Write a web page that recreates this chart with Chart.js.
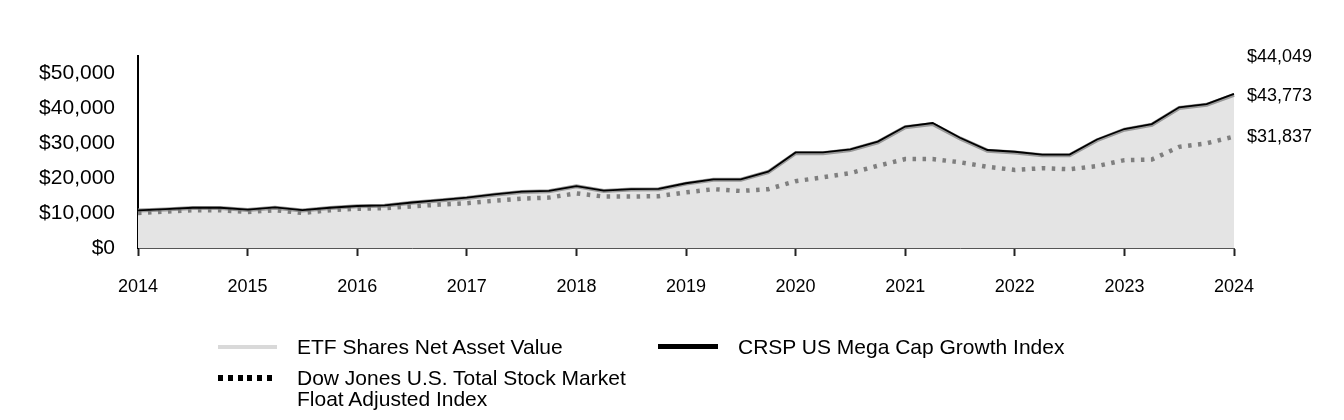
<!DOCTYPE html>
<html>
<head>
<meta charset="utf-8">
<script src="https://cdn.jsdelivr.net/npm/chart.js@4/dist/chart.umd.min.js"></script>
<style>
  html, body { margin: 0; padding: 0; background: #fff; }
  #wrap { position: relative; width: 1344px; height: 420px; font-family: "Liberation Sans", Arial, sans-serif; }
  canvas { position: absolute; left: 0; top: 0; }
  .lg { position: absolute; font-size: 21px; line-height: 21px; color: #000; white-space: nowrap; }
  .sw { position: absolute; }
</style>
</head>
<body>
<div id="wrap">
  <canvas id="c" width="1344" height="420"></canvas>
  <div class="sw" style="left:218px;top:345px;width:59px;height:4px;background:#d9d9d9;"></div>
  <div class="lg" style="left:297px;top:336px;">ETF Shares Net Asset Value</div>
  <div class="sw" style="left:658px;top:344px;width:60px;height:5px;background:#000;"></div>
  <div class="lg" style="left:738px;top:336px;">CRSP US Mega Cap Growth Index</div>
  <div class="sw" style="left:218px;top:375px;width:55px;height:6px;background:repeating-linear-gradient(90deg,#000 0 5px,transparent 5px 9.8px);"></div>
  <div class="lg" style="left:297px;top:367px;">Dow Jones U.S. Total Stock Market<br>Float Adjusted Index</div>
</div>
<script>
const periods = [
  'Jan 2014','Apr 2014','Jul 2014','Oct 2014',
  'Jan 2015','Apr 2015','Jul 2015','Oct 2015',
  'Jan 2016','Apr 2016','Jul 2016','Oct 2016',
  'Jan 2017','Apr 2017','Jul 2017','Oct 2017',
  'Jan 2018','Apr 2018','Jul 2018','Oct 2018',
  'Jan 2019','Apr 2019','Jul 2019','Oct 2019',
  'Jan 2020','Apr 2020','Jul 2020','Oct 2020',
  'Jan 2021','Apr 2021','Jul 2021','Oct 2021',
  'Jan 2022','Apr 2022','Jul 2022','Oct 2022',
  'Jan 2023','Apr 2023','Jul 2023','Oct 2023',
  'Jan 2024'
];

const etfNav = [
  10700, 11000, 11400, 11400, 10850, 11500, 10700, 11400,
  11900, 12100, 12900, 13600, 14300, 15200, 16000, 16200,
  17600, 16300, 16700, 16800, 18400, 19500, 19500, 21700,
  27100, 27100, 28000, 30200, 34500, 35400, 31300, 27800,
  27300, 26500, 26500, 30800, 33800, 35200, 40000, 40900,
  43773
];

const crspIndex = [
  10770, 11100, 11500, 11500, 10950, 11600, 10800, 11500,
  12000, 12200, 13000, 13700, 14400, 15300, 16100, 16300,
  17700, 16400, 16800, 16900, 18500, 19600, 19600, 21800,
  27300, 27300, 28200, 30400, 34700, 35700, 31500, 28000,
  27500, 26700, 26700, 31000, 34000, 35400, 40200, 41100,
  44049
];

const dowJones = [
  10000, 10400, 10800, 10800, 10300, 10800, 10000, 10800,
  11200, 11400, 11900, 12400, 12800, 13500, 14100, 14400,
  15600, 14700, 14700, 14800, 15900, 16800, 16300, 16800,
  19100, 20200, 21400, 23500, 25400, 25400, 24500, 23200,
  22300, 22800, 22500, 23400, 25100, 25300, 28900, 29900,
  31837
];

const yTicks = [0, 10000, 20000, 30000, 40000, 50000];

const money = v => '$' + Math.round(v).toLocaleString('en-US');

const endLabels = {
  id: 'endLabels',
  afterDraw(chart) {
    const ctx = chart.ctx;
    const y = chart.scales.y;
    const x0 = chart.chartArea.right + 13;
    const shifts = { crsp: -37, nav: 1, dj: 0 };
    ctx.save();
    ctx.font = '18px "Liberation Sans", Arial, sans-serif';
    ctx.fillStyle = '#000';
    ctx.textAlign = 'left';
    ctx.textBaseline = 'middle';
    chart.data.datasets.forEach(ds => {
      const last = ds.data[ds.data.length - 1];
      ctx.fillText(money(last), x0, y.getPixelForValue(last) + shifts[ds.key]);
    });
    ctx.restore();
  }
};

new Chart(document.getElementById('c'), {
  type: 'line',
  data: {
    labels: periods,
    datasets: [
      { key: 'crsp', label: 'CRSP US Mega Cap Growth Index', data: crspIndex,
        borderColor: '#000', borderWidth: 1.8, pointRadius: 0, fill: false, order: 0 },
      { key: 'dj', label: 'Dow Jones U.S. Total Stock Market Float Adjusted Index', data: dowJones,
        borderColor: '#7f7f7f', borderWidth: 4.5, borderDash: [3.5, 6.5], borderCapStyle: 'butt',
        pointRadius: 0, fill: false, order: 1 },
      { key: 'nav', label: 'ETF Shares Net Asset Value', data: etfNav,
        borderColor: '#999999', borderWidth: 4, backgroundColor: '#e4e4e4',
        pointRadius: 0, fill: 'origin', order: 2 }
    ]
  },
  options: {
    responsive: false,
    animation: false,
    layout: { padding: { left: 0, right: 110, top: 55.5, bottom: 0 } },
    plugins: { legend: { display: false }, tooltip: { enabled: false } },
    elements: { line: { tension: 0 } },
    scales: {
      x: {
        type: 'category',
        offset: false,
        grid: {
          display: true, drawOnChartArea: false, tickLength: 8, tickWidth: 2,
          tickColor: ctx => (ctx.tick && periods[ctx.index] && periods[ctx.index].startsWith('Jan')) ? '#222' : 'rgba(0,0,0,0)'
        },
        border: { display: true, color: '#555', width: 1 },
        ticks: {
          autoSkip: false, maxRotation: 0, padding: 20, color: '#000',
          font: { family: '"Liberation Sans", Arial, sans-serif', size: 18 },
          callback: function(v, i) { const l = periods[i]; return l.startsWith('Jan') ? l.slice(4) : ''; }
        },
        afterFit: s => { s.height = 420 - 248; }
      },
      y: {
        min: 0, max: 55000,
        grid: { display: false, drawTicks: false },
        border: { display: true, color: '#000', width: 2 },
        afterBuildTicks: s => { s.ticks = yTicks.map(v => ({ value: v })); },
        ticks: {
          padding: 23, color: '#000',
          font: { family: '"Liberation Sans", Arial, sans-serif', size: 21 },
          callback: v => money(v)
        },
        afterFit: s => { s.width = 138; }
      }
    }
  },
  plugins: [endLabels]
});
</script>
</body>
</html>
